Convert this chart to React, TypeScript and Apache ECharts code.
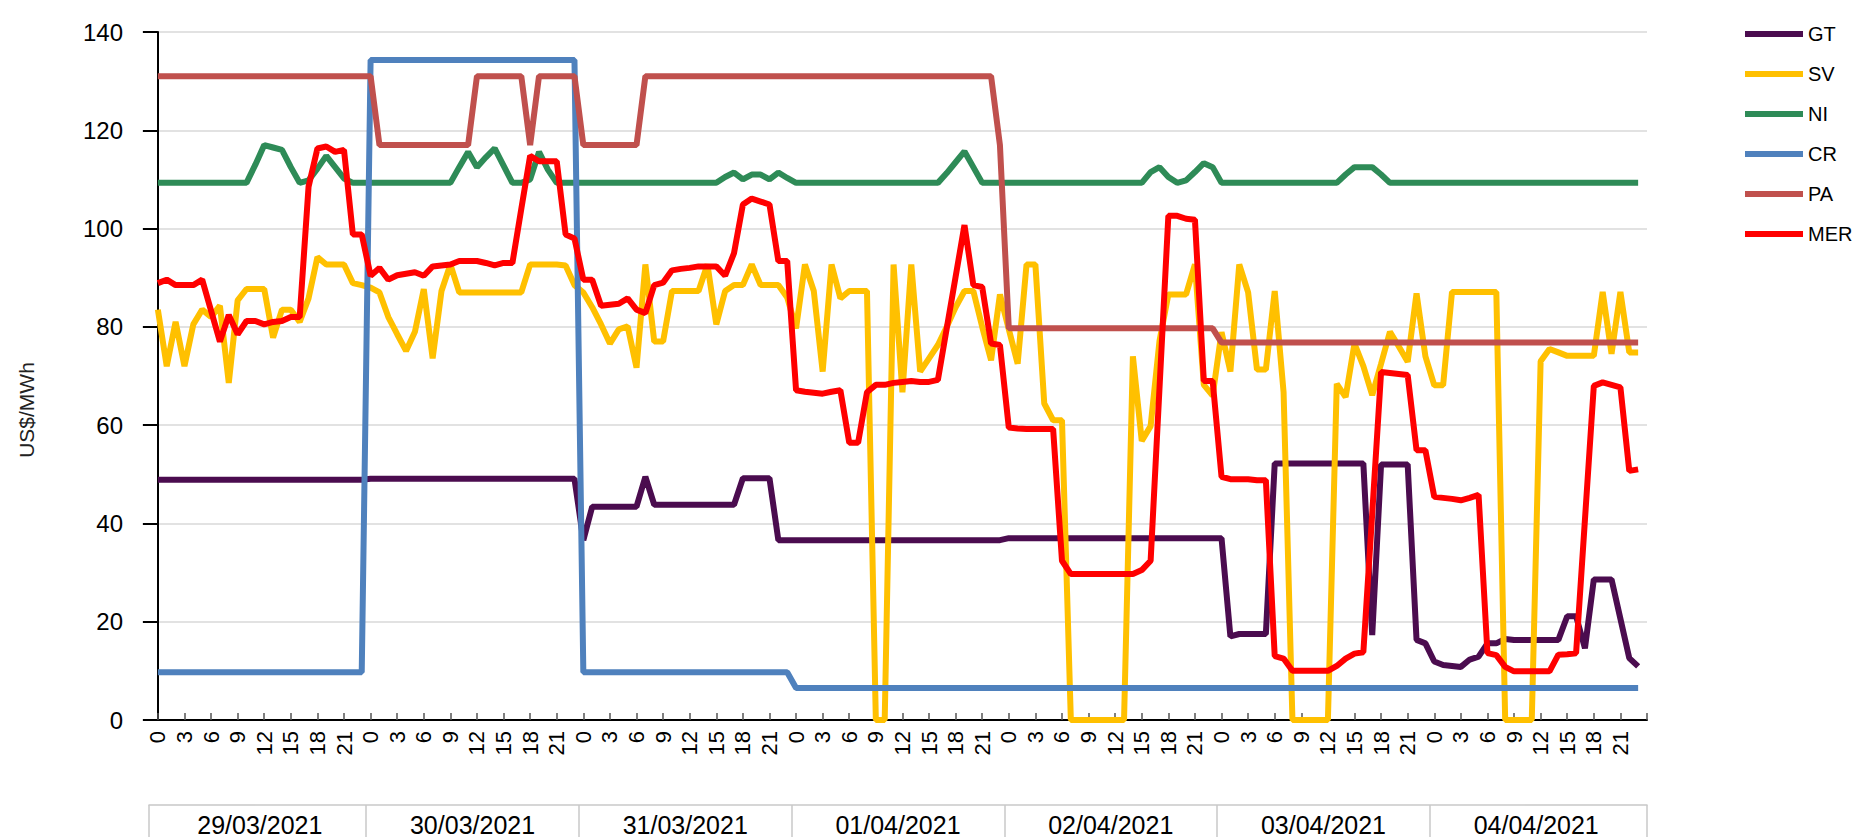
import React, { useEffect, useRef } from "react";
import * as echarts from "echarts";

const DATES = ["29/03/2021", "30/03/2021", "31/03/2021", "01/04/2021", "02/04/2021", "03/04/2021", "04/04/2021"];
const TICK_HOURS = [0, 3, 6, 9, 12, 15, 18, 21];
const NAMES = ["GT", "SV", "NI", "CR", "PA", "MER"];
const COLORS = ["#4b0c4f", "#ffc000", "#2e8b57", "#4f81bd", "#c0504d", "#ff0000"];

const GT = [
  48.9, 48.9, 48.9, 48.9, 48.9, 48.9, 48.9, 48.9, 48.9, 48.9, 48.9, 48.9, 48.9, 48.9, 48.9, 48.9, 48.9, 48.9, 48.9, 48.9, 48.9, 48.9, 48.9, 48.9,
  49.1, 49.1, 49.1, 49.1, 49.1, 49.1, 49.1, 49.1, 49.1, 49.1, 49.1, 49.1, 49.1, 49.1, 49.1, 49.1, 49.1, 49.1, 49.1, 49.1, 49.1, 49.1, 49.1, 49.1,
  36.6, 43.4, 43.4, 43.4, 43.4, 43.4, 43.4, 49.5, 43.8, 43.8, 43.8, 43.8, 43.8, 43.8, 43.8, 43.8, 43.8, 43.8, 49.2, 49.2, 49.2, 49.2, 36.6, 36.6,
  36.6, 36.6, 36.6, 36.6, 36.6, 36.6, 36.6, 36.6, 36.6, 36.6, 36.6, 36.6, 36.6, 36.6, 36.6, 36.6, 36.6, 36.6, 36.6, 36.6, 36.6, 36.6, 36.6, 36.6,
  37, 37, 37, 37, 37, 37, 37, 37, 37, 37, 37, 37, 37, 37, 37, 37, 37, 37, 37, 37, 37, 37, 37, 37,
  37, 17, 17.5, 17.5, 17.5, 17.5, 52.2, 52.2, 52.2, 52.2, 52.2, 52.2, 52.2, 52.2, 52.2, 52.2, 52.2, 17.3, 52, 52, 52, 52, 16.3, 15.6,
  11.9, 11.2, 11, 10.8, 12.3, 12.9, 15.6, 15.6, 16.5, 16.3, 16.3, 16.3, 16.3, 16.3, 16.3, 21.1, 21.1, 14.6, 28.6, 28.6, 28.6, 20.6, 12.6, 10.9,
];

const SV = [
  83.5, 72, 81, 72, 80.5, 83.5, 82, 84.3, 68.6, 85.4, 87.7, 87.7, 87.7, 77.8, 83.5, 83.5, 81, 85.8, 94.2, 92.7, 92.7, 92.7, 88.9, 88.5,
  88, 87, 82, 78.5, 75.1, 79, 87.7, 73.6, 87.3, 92.7, 87, 87, 87, 87, 87, 87, 87, 87, 92.7, 92.7, 92.7, 92.7, 92.5, 88.5,
  87, 84, 80.5, 76.6, 79.5, 80.1, 71.7, 92.7, 77, 77, 87.3, 87.3, 87.3, 87.3, 92.7, 80.5, 87.3, 88.5, 88.5, 92.7, 88.5, 88.5, 88.5, 86,
  79.7, 92.7, 87.3, 70.9, 92.7, 85.8, 87.3, 87.3, 87.3, 0, 0, 92.7, 66.7, 92.7, 70.9, 73.6, 76.3, 80, 84, 87.3, 87.3, 80, 73.2, 86.6,
  79.5, 72.5, 92.7, 92.7, 64.4, 61, 61, 0, 0, 0, 0, 0, 0, 0, 74, 56.8, 59.8, 77.1, 86.6, 86.6, 86.6, 92.7, 68.2, 66,
  78.9, 70.9, 92.7, 87, 71.3, 71.3, 87.3, 66.7, 0, 0, 0, 0, 0, 68.4, 65.7, 76.6, 72, 66.1, 72.5, 79, 76, 72.9, 86.8, 74,
  68.1, 68.1, 87.1, 87.1, 87.1, 87.1, 87.1, 87.1, 0, 0, 0, 0, 73, 75.5, 74.8, 74.1, 74.1, 74.1, 74.1, 87.1, 74.5, 87.1, 74.8, 74.8,
];

const NI = [
  109.3, 109.3, 109.3, 109.3, 109.3, 109.3, 109.3, 109.3, 109.3, 109.3, 109.3, 113, 117, 116.5, 116, 112.5, 109.3, 109.8, 112.2, 114.8, 112.5, 110.2, 109.3, 109.3,
  109.3, 109.3, 109.3, 109.3, 109.3, 109.3, 109.3, 109.3, 109.3, 109.3, 112.5, 115.6, 112.5, 114.5, 116.3, 112.8, 109.3, 109.3, 110, 115.6, 112, 109.3, 109.3, 109.3,
  109.3, 109.3, 109.3, 109.3, 109.3, 109.3, 109.3, 109.3, 109.3, 109.3, 109.3, 109.3, 109.3, 109.3, 109.3, 109.3, 110.5, 111.4, 110, 111, 111, 110, 111.4, 110.3,
  109.3, 109.3, 109.3, 109.3, 109.3, 109.3, 109.3, 109.3, 109.3, 109.3, 109.3, 109.3, 109.3, 109.3, 109.3, 109.3, 109.3, 111.3, 113.5, 115.7, 112.5, 109.3, 109.3, 109.3,
  109.3, 109.3, 109.3, 109.3, 109.3, 109.3, 109.3, 109.3, 109.3, 109.3, 109.3, 109.3, 109.3, 109.3, 109.3, 109.3, 111.5, 112.5, 110.5, 109.3, 109.8, 111.5, 113.3, 112.5,
  109.3, 109.3, 109.3, 109.3, 109.3, 109.3, 109.3, 109.3, 109.3, 109.3, 109.3, 109.3, 109.3, 109.3, 111, 112.5, 112.5, 112.5, 111, 109.3, 109.3, 109.3, 109.3, 109.3,
  109.3, 109.3, 109.3, 109.3, 109.3, 109.3, 109.3, 109.3, 109.3, 109.3, 109.3, 109.3, 109.3, 109.3, 109.3, 109.3, 109.3, 109.3, 109.3, 109.3, 109.3, 109.3, 109.3, 109.3,
];

const CR = [
  9.7, 9.7, 9.7, 9.7, 9.7, 9.7, 9.7, 9.7, 9.7, 9.7, 9.7, 9.7, 9.7, 9.7, 9.7, 9.7, 9.7, 9.7, 9.7, 9.7, 9.7, 9.7, 9.7, 9.7,
  134.3, 134.3, 134.3, 134.3, 134.3, 134.3, 134.3, 134.3, 134.3, 134.3, 134.3, 134.3, 134.3, 134.3, 134.3, 134.3, 134.3, 134.3, 134.3, 134.3, 134.3, 134.3, 134.3, 134.3,
  9.7, 9.7, 9.7, 9.7, 9.7, 9.7, 9.7, 9.7, 9.7, 9.7, 9.7, 9.7, 9.7, 9.7, 9.7, 9.7, 9.7, 9.7, 9.7, 9.7, 9.7, 9.7, 9.7, 9.7,
  6.5, 6.5, 6.5, 6.5, 6.5, 6.5, 6.5, 6.5, 6.5, 6.5, 6.5, 6.5, 6.5, 6.5, 6.5, 6.5, 6.5, 6.5, 6.5, 6.5, 6.5, 6.5, 6.5, 6.5,
  6.5, 6.5, 6.5, 6.5, 6.5, 6.5, 6.5, 6.5, 6.5, 6.5, 6.5, 6.5, 6.5, 6.5, 6.5, 6.5, 6.5, 6.5, 6.5, 6.5, 6.5, 6.5, 6.5, 6.5,
  6.5, 6.5, 6.5, 6.5, 6.5, 6.5, 6.5, 6.5, 6.5, 6.5, 6.5, 6.5, 6.5, 6.5, 6.5, 6.5, 6.5, 6.5, 6.5, 6.5, 6.5, 6.5, 6.5, 6.5,
  6.5, 6.5, 6.5, 6.5, 6.5, 6.5, 6.5, 6.5, 6.5, 6.5, 6.5, 6.5, 6.5, 6.5, 6.5, 6.5, 6.5, 6.5, 6.5, 6.5, 6.5, 6.5, 6.5, 6.5,
];

const PA = [
  131, 131, 131, 131, 131, 131, 131, 131, 131, 131, 131, 131, 131, 131, 131, 131, 131, 131, 131, 131, 131, 131, 131, 131,
  131, 117, 117, 117, 117, 117, 117, 117, 117, 117, 117, 117, 131, 131, 131, 131, 131, 131, 117, 131, 131, 131, 131, 131,
  117, 117, 117, 117, 117, 117, 117, 131, 131, 131, 131, 131, 131, 131, 131, 131, 131, 131, 131, 131, 131, 131, 131, 131,
  131, 131, 131, 131, 131, 131, 131, 131, 131, 131, 131, 131, 131, 131, 131, 131, 131, 131, 131, 131, 131, 131, 131, 117,
  79.7, 79.7, 79.7, 79.7, 79.7, 79.7, 79.7, 79.7, 79.7, 79.7, 79.7, 79.7, 79.7, 79.7, 79.7, 79.7, 79.7, 79.7, 79.7, 79.7, 79.7, 79.7, 79.7, 79.7,
  76.8, 76.8, 76.8, 76.8, 76.8, 76.8, 76.8, 76.8, 76.8, 76.8, 76.8, 76.8, 76.8, 76.8, 76.8, 76.8, 76.8, 76.8, 76.8, 76.8, 76.8, 76.8, 76.8, 76.8,
  76.8, 76.8, 76.8, 76.8, 76.8, 76.8, 76.8, 76.8, 76.8, 76.8, 76.8, 76.8, 76.8, 76.8, 76.8, 76.8, 76.8, 76.8, 76.8, 76.8, 76.8, 76.8, 76.8, 76.8,
];

const MER = [
  88.9, 89.6, 88.5, 88.5, 88.5, 89.6, 83.3, 77, 82.4, 78.5, 81.2, 81.2, 80.5, 81, 81.2, 82, 82, 108.5, 116.3, 116.7, 115.6, 116, 98.8, 98.8,
  90.4, 92, 89.6, 90.5, 90.8, 91.1, 90.4, 92.3, 92.5, 92.7, 93.4, 93.4, 93.4, 93, 92.5, 93, 93, 104, 114.8, 113.7, 113.7, 113.7, 98.8, 98,
  89.6, 89.6, 84.3, 84.5, 84.7, 85.8, 83.5, 82.8, 88.5, 89, 91.5, 91.8, 92, 92.3, 92.3, 92.3, 90.4, 95, 104.9, 106.1, 105.5, 104.9, 93.4, 93.4,
  67.1, 66.8, 66.6, 66.4, 66.8, 67.1, 56.4, 56.4, 66.7, 68.2, 68.2, 68.6, 68.8, 69, 68.8, 68.8, 69.2, 79.7, 90.2, 100.7, 88.5, 88.1, 76.6, 76.3,
  59.5, 59.3, 59.2, 59.2, 59.2, 59.2, 32.4, 29.7, 29.7, 29.7, 29.7, 29.7, 29.7, 29.7, 29.7, 30.5, 32.4, 67.5, 102.6, 102.6, 102, 101.8, 69, 69,
  49.5, 49, 49, 49, 48.8, 48.8, 13, 12.5, 10, 10, 10, 10, 10, 11, 12.5, 13.5, 13.8, 42, 70.8, 70.6, 70.4, 70.2, 54.9, 54.9,
  45.4, 45.2, 45, 44.7, 45.2, 45.8, 13.6, 13.2, 10.8, 9.9, 9.9, 9.9, 9.9, 9.9, 13.3, 13.4, 13.6, 40.8, 68, 68.7, 68.2, 67.7, 50.7, 51,
];

const SERIES_VALUES = [GT, SV, NI, CR, PA, MER];
const FONT = "Liberation Sans, Arial, sans-serif";

export default function App() {
  const ref = useRef<HTMLDivElement>(null);
  useEffect(() => {
    if (!ref.current) return;
    const chart = echarts.init(ref.current, null, { renderer: "svg" });
    const lastHour = DATES.length * 24;
    const hourTicks = DATES.flatMap((_, d) => TICK_HOURS.map((h) => d * 24 + h));
    const dayCenters = DATES.map((_, d) => d * 24 + 11.5);
    const daySeps = [-1, ...DATES.slice(1).map((_, d) => (d + 1) * 24 - 0.5), lastHour];

    chart.setOption({
      animation: false,
      textStyle: { fontFamily: FONT },
      grid: { left: 149, right: 211, top: 32, bottom: 120, containLabel: false },
      legend: {
        orient: "vertical",
        left: 1740,
        top: 19,
        itemWidth: 58,
        itemHeight: 6,
        itemGap: 20,
        icon: "rect",
        data: NAMES,
        textStyle: { fontSize: 20, color: "#000", fontFamily: FONT },
      },
      xAxis: [
        {
          type: "value",
          min: -1,
          max: lastHour,
          position: "bottom",
          axisLine: { show: true, lineStyle: { color: "#000", width: 2 } },
          axisTick: {
            show: true,
            inside: true,
            length: 7,
            customValues: [...hourTicks, lastHour],
            lineStyle: { color: "#555", width: 1.5 },
          },
          axisLabel: {
            customValues: hourTicks,
            formatter: (v: number) => String(Math.round(v) % 24),
            rotate: 90,
            margin: 11,
            fontSize: 22,
            color: "#000",
            fontFamily: FONT,
          },
          splitLine: { show: false },
        },
        {
          type: "value",
          min: -1,
          max: lastHour,
          position: "bottom",
          offset: 85,
          axisLine: { show: true, lineStyle: { color: "#c8c8c8", width: 1.5 } },
          axisTick: {
            show: true,
            length: 32,
            customValues: daySeps,
            lineStyle: { color: "#c8c8c8", width: 1.5 },
          },
          axisLabel: {
            customValues: dayCenters,
            formatter: (v: number) => DATES[Math.round((v - 11.5) / 24)] ?? "",
            margin: 7,
            fontSize: 25,
            color: "#000",
            fontFamily: FONT,
          },
          splitLine: { show: false },
        },
      ],
      yAxis: {
        type: "value",
        min: 0,
        max: 140,
        interval: 20,
        axisLine: { show: true, lineStyle: { color: "#000", width: 2 } },
        axisTick: { show: true, length: 15, lineStyle: { color: "#000", width: 2 } },
        axisLabel: { fontSize: 24, margin: 26, color: "#000", fontFamily: FONT },
        splitLine: { show: true, lineStyle: { color: "#d9d9d9", width: 1.5 } },
      },
      graphic: [
        {
          type: "text",
          x: 26,
          y: 410,
          rotation: Math.PI / 2,
          style: {
            text: "US$/MWh",
            fontSize: 21,
            fill: "#222",
            align: "center",
            verticalAlign: "middle",
            fontFamily: FONT,
          },
        },
      ],
      series: NAMES.map((name, i) => ({
        name,
        type: "line",
        xAxisIndex: 0,
        showSymbol: false,
        symbol: "none",
        color: COLORS[i],
        lineStyle: { width: 6, color: COLORS[i] },
        data: SERIES_VALUES[i].map((v, h) => [h, v]),
      })),
    });
    return () => chart.dispose();
  }, []);
  return (
    <div
      ref={ref}
      style={{ position: "fixed", left: 0, top: 0, width: 1858, height: 840, background: "#fff" }}
    />
  );
}
